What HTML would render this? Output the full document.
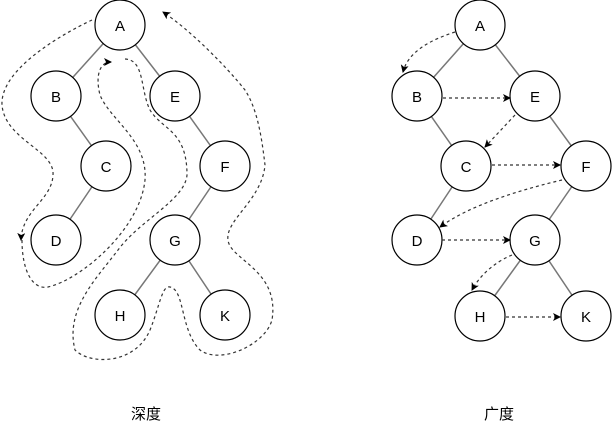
<!DOCTYPE html>
<html><head><meta charset="utf-8"><style>body{margin:0;background:#fff}svg{display:block}</style></head><body>
<svg width="612" height="431" viewBox="0 0 612 431" xmlns="http://www.w3.org/2000/svg" font-family="Liberation Sans, sans-serif">
<defs><marker id="ah" markerWidth="8" markerHeight="8" refX="7" refY="4" orient="auto" markerUnits="userSpaceOnUse"><path d="M0,0 L8,4 L0,8 L2,4 Z" fill="#000"/></marker></defs>
<g stroke="#777" stroke-width="1.5">
<line x1="120" y1="25" x2="56" y2="96"/><line x1="120" y1="25" x2="175" y2="96"/><line x1="56" y1="96" x2="106" y2="166"/><line x1="106" y1="166" x2="56" y2="240"/><line x1="175" y1="96" x2="225" y2="166"/><line x1="225" y1="166" x2="175" y2="240"/><line x1="175" y1="240" x2="120" y2="315"/><line x1="175" y1="240" x2="225" y2="315"/>
<line x1="480" y1="25" x2="417" y2="96"/><line x1="480" y1="25" x2="535" y2="96"/><line x1="417" y1="96" x2="466" y2="166"/><line x1="466" y1="166" x2="417" y2="240"/><line x1="535" y1="96" x2="586" y2="166"/><line x1="586" y1="166" x2="535" y2="240"/><line x1="535" y1="240" x2="480" y2="316"/><line x1="535" y1="240" x2="586" y2="316"/>
</g>
<g fill="#fff" stroke="#000" stroke-width="1.2">
<circle cx="120" cy="25" r="25"/><circle cx="56" cy="96" r="25"/><circle cx="175" cy="96" r="25"/><circle cx="106" cy="166" r="25"/><circle cx="225" cy="166" r="25"/><circle cx="56" cy="240" r="25"/><circle cx="175" cy="240" r="25"/><circle cx="120" cy="315" r="25"/><circle cx="225" cy="315" r="25"/>
<circle cx="480" cy="25" r="25"/><circle cx="417" cy="96" r="25"/><circle cx="535" cy="96" r="25"/><circle cx="466" cy="166" r="25"/><circle cx="586" cy="166" r="25"/><circle cx="417" cy="240" r="25"/><circle cx="535" cy="240" r="25"/><circle cx="480" cy="316" r="25"/><circle cx="586" cy="316" r="25"/>
</g>
<g font-size="15" text-anchor="middle" fill="#000">
<text x="120" y="31">A</text><text x="56" y="102">B</text><text x="175" y="102">E</text><text x="106" y="172">C</text><text x="225" y="172">F</text><text x="56" y="246">D</text><text x="175" y="246">G</text><text x="120" y="321">H</text><text x="225" y="321">K</text>
<text x="480" y="31">A</text><text x="417" y="102">B</text><text x="535" y="102">E</text><text x="466" y="172">C</text><text x="586" y="172">F</text><text x="417" y="246">D</text><text x="535" y="246">G</text><text x="480" y="322">H</text><text x="586" y="322">K</text>
</g>
<g fill="none" stroke="#333" stroke-width="1.2" stroke-dasharray="3,3">
<path d="M92,20 C60,35 0,70 2,105 C5,140 55,150 53,175 C52,200 22,210 21,240" marker-end="url(#ah)"/>
<path d="M22,240 C22,270 32,290 48,287 C80,280 140,230 145,180 C148,140 110,120 100,95 C95,75 100,62 111,62" marker-end="url(#ah)"/>
<path d="M125,59 C145,60 140,90 150,110 C162,130 187,130 187,175 C185,200 140,220 118,250 C95,280 65,310 75,350 C90,365 135,365 150,330 C160,305 162,285 170,287 C185,290 180,330 200,350 C220,365 265,345 272,320 C280,270 230,260 228,240 C225,220 262,200 265,165 C262,140 258,110 245,90 C225,65 190,30 163,12" marker-end="url(#ah)"/>
<path d="M455,32 C430,40 408,52 403,72" marker-end="url(#ah)"/>
<path d="M443,98 L510,98" marker-end="url(#ah)"/>
<path d="M515,115 L485,147" marker-end="url(#ah)"/>
<path d="M492,165 L560,165" marker-end="url(#ah)"/>
<path d="M562,180 C520,190 470,205 440,227" marker-end="url(#ah)"/>
<path d="M442,240 L510,240" marker-end="url(#ah)"/>
<path d="M512,255 C495,262 480,275 472,290" marker-end="url(#ah)"/>
<path d="M506,317 L560,317" marker-end="url(#ah)"/>
</g>
<g font-size="15" text-anchor="middle" font-family="Liberation Sans, Noto Sans CJK SC, sans-serif">
<text x="146" y="419">深度</text><text x="499" y="419">广度</text>
</g>
</svg>
</body></html>
